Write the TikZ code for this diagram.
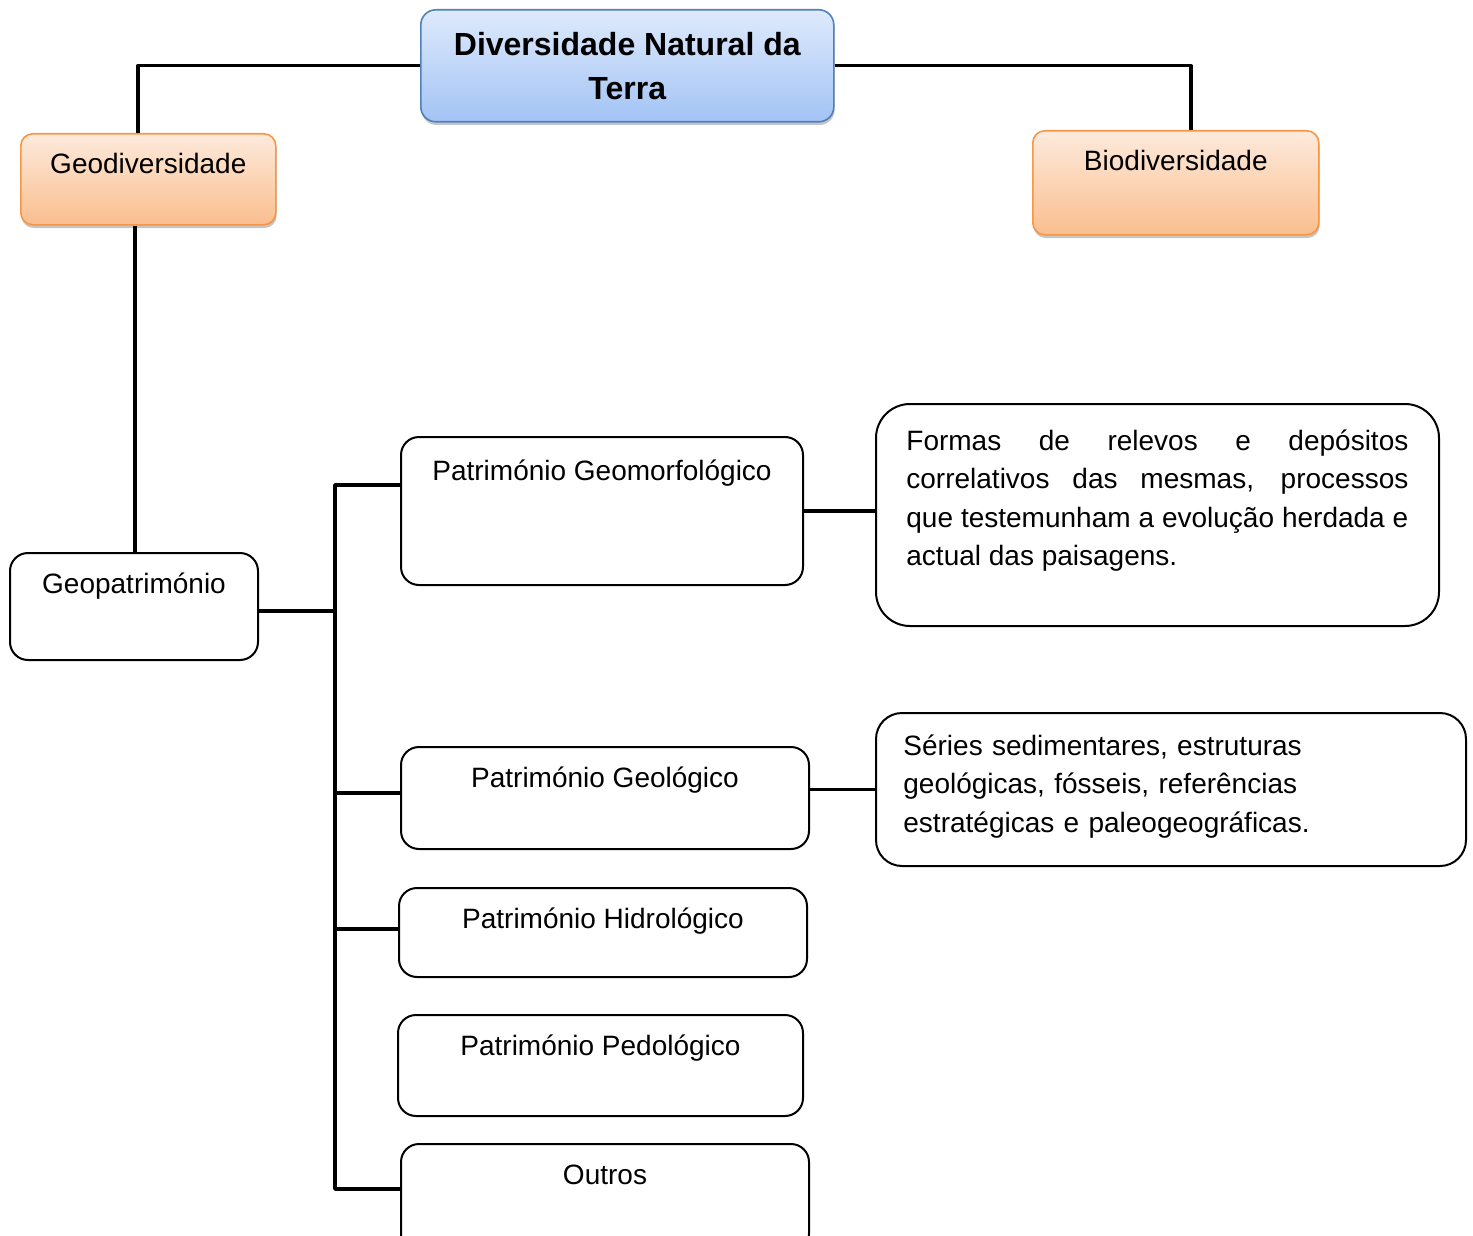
\documentclass[tikz,border=0pt]{standalone}
\usepackage{fontspec}
\setmainfont{Liberation Sans}
\usetikzlibrary{shadows}
\definecolor{azulclaro}{RGB}{222,234,252}
\definecolor{azulescuro}{RGB}{163,195,245}
\definecolor{azulborda}{RGB}{79,129,189}
\definecolor{laranjaclaro}{RGB}{253,234,220}
\definecolor{laranjaescuro}{RGB}{250,190,142}
\definecolor{laranjaborda}{RGB}{247,150,70}
\begin{document}
\begin{tikzpicture}[x=0.5pt, y=-0.5pt, line join=round,
    link/.style={line width=1.7pt},
    caixa/.style={draw, line width=1pt, rounded corners=9pt, inner sep=0pt,
      text height=20pt, anchor=north west, font=\fontsize{14}{17}\selectfont},
    sombra/.style={drop shadow={shadow xshift=0.4pt, shadow yshift=-1.6pt, fill=black!45, opacity=0.5}},
    laranja/.style={caixa, sombra, draw=laranjaborda, line width=0.8pt, rounded corners=6pt,
      top color=laranjaclaro, bottom color=laranjaescuro},
    descricao/.style={draw, line width=1pt, anchor=north west},
    textodesc/.style={inner sep=0pt, anchor=base west, font=\fontsize{14}{19.25}\selectfont}]
  \useasboundingbox (0,0) rectangle (1473,1236);

  % 1. caixas do topo
  \node[sombra, draw=azulborda, line width=0.8pt, rounded corners=7.5pt, anchor=north west,
    top color=azulclaro, bottom color=azulescuro, minimum width=206.5pt, minimum height=56pt,
    align=center, font=\bfseries\fontsize{16}{22}\selectfont] (titulo) at (420,9)
    {Diversidade Natural da\\Terra};
  \node[laranja, minimum width=127.5pt, text depth=25.5pt] (geodiv) at (20,133) {Geodiversidade};
  \node[laranja, minimum width=143pt, text depth=32pt] (biodiv) at (1032,130) {Biodiversidade};

  % 2. geopatrimónio e ramos
  \node[caixa, minimum width=124pt, text depth=33.5pt] (geopat) at (9,552) {Geopatrimónio};
  \node[caixa, minimum width=201pt, text height=21.5pt, text depth=52.5pt] (geomorf) at (400,436) {Património Geomorfológico};
  \node[caixa, minimum width=204pt, text depth=31pt] (geologico) at (400,746) {Património Geológico};
  \node[caixa, minimum width=204pt, text depth=24.5pt] (hidro) at (398,887) {Património Hidrológico};
  \node[caixa, minimum width=202.5pt, text depth=30.5pt] (pedo) at (397,1014) {Património Pedológico};
  \node[caixa, minimum width=204pt, text depth=34pt] (outros) at (400,1143) {Outros};

  % 3. caixas de descrição
  \node[descricao, rounded corners=17pt, minimum width=281.5pt, minimum height=111pt] (formas) at (875,403) {};
  \node[textodesc, text width=251pt, align=justify] (formastxt) at (906,450)
    {\hyphenpenalty=10000 Formas de relevos e depósitos\linebreak correlativos das mesmas, processos\linebreak
     que testemunham a evolução herdada e\linebreak actual das paisagens.};
  \node[descricao, rounded corners=13pt, minimum width=295pt, minimum height=76.5pt] (series) at (875,712) {};
  \node[textodesc, text width=270pt, align=left] (seriestxt) at (903,755)
    {Séries sedimentares, estruturas\\geológicas, fósseis, referências\\estratégicas e paleogeográficas.};

  % 4. ligações
  \draw[link] (titulo.west) -| ([xshift=-5.25pt]geodiv.north);
  \draw[link] (titulo.east) -| ([xshift=7.5pt]biodiv.north);
  \draw[link] ([xshift=-6.75pt]geodiv.south) -- ([xshift=-6.75pt]geodiv.south |- geopat.north);
  \draw[link] ([yshift=-2.25pt]geopat.east) -- ++(76,0) coordinate (tronco);
  \coordinate (r1) at ([yshift=13pt]geomorf.west);
  \coordinate (r2) at ([yshift=2.5pt]geologico.west);
  \coordinate (r3) at ([yshift=1.75pt]hidro.west);
  \coordinate (r4) at ([yshift=4.5pt]outros.west);
  \draw[link] (r1) -| (tronco) |- (r4);
  \draw[link] (r2 -| tronco) -- (r2);
  \draw[link] (r3 -| tronco) -- (r3);
  \draw[link] (geomorf.east) -- (geomorf.east -| formas.west);
  \draw[link] (series.west -| geologico.east) -- (series.west);
\end{tikzpicture}
\end{document}
